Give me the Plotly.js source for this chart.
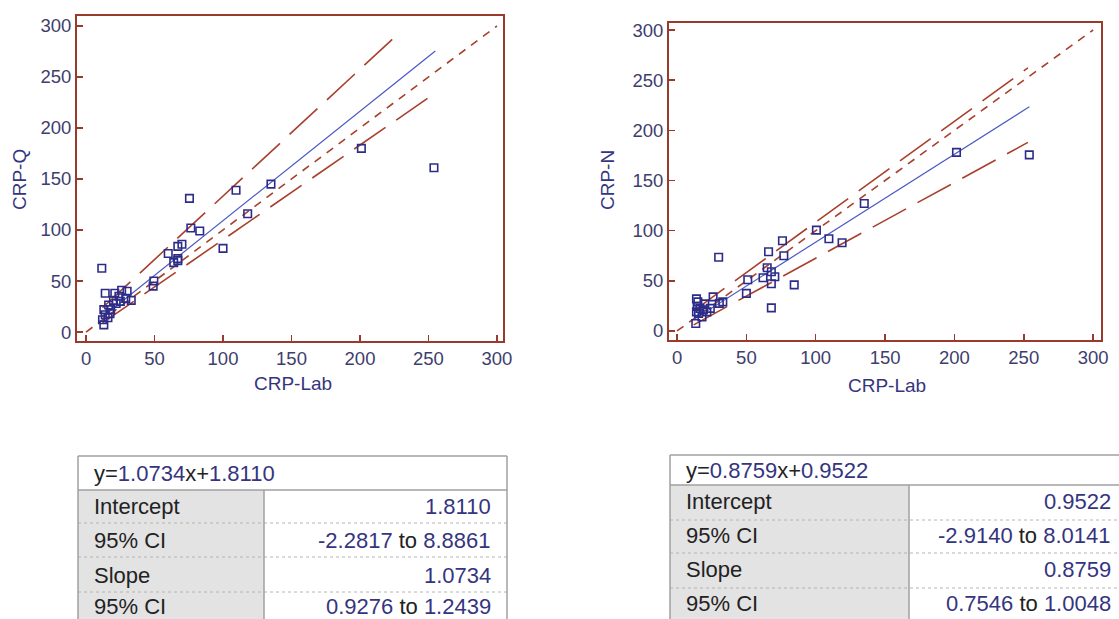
<!DOCTYPE html>
<html><head><meta charset="utf-8">
<script src="https://cdn.plot.ly/plotly-3.0.1.min.js"></script>
<style>html,body{margin:0;padding:0;background:#fff;}#chart{width:1119px;height:619px;}</style>
</head><body><div id="chart"></div>
<script>
// ---------- data ----------
const labQ = [11.5, 14, 21, 26, 30, 24, 20, 29, 33, 16.5, 13, 14, 12, 13, 17.5, 18, 22, 16, 49.5, 49, 60, 64, 67, 67, 70, 75.5, 76.5, 83, 100, 109.5, 118, 135, 201, 254, 67, 25];
const crpQ = [62.5, 38, 38, 41, 40, 35, 31, 33, 31, 26.5, 22, 17, 12, 7, 18, 22, 28, 14, 50, 45, 77, 68, 70, 84, 86, 131, 102, 99, 82, 139, 116, 145, 180, 161, 72, 30];

const labN = [254, 201.5, 135, 100.5, 109.5, 119, 76, 77, 66, 84.5, 68, 30, 65, 68, 62, 70.5, 68, 51, 50, 26, 33, 30.5, 14, 15, 20, 14, 18, 13.5, 21.5, 24, 16.5, 14.5, 19, 15.5];
const crpN = [175.5, 178, 127, 100.5, 92, 88, 90, 75, 79, 46, 23, 73.5, 63, 59, 53, 54, 47, 51, 37.5, 34, 29, 27.5, 32, 29, 27, 19, 14, 7.5, 19, 22.5, 22.5, 24.5, 21, 17.5];

// line end points
const identX = [0, 300], identY = [0, 300];
const regQx = [12, 255], regQy = [14.7, 275.5];
const upQx = [12, 226], upQy = [23.8, 290];
const loQx = [12, 255], loQy = [8.9, 234.3];
const regNx = [12, 254], regNy = [11.5, 223.4];
const upNx = [12, 253], upNy = [20.1, 262.2];
const loNx = [12, 253], loNy = [6.1, 188.0];

const tickVals = [0, 50, 100, 150, 200, 250, 300];
const xTitle = 'CRP-Lab';
const yTitleQ = 'CRP-Q';
const yTitleN = 'CRP-N';

const rowLabels = ['Intercept', '95% CI', 'Slope', '95% CI'];
const eqQ = ['1.0734', '1.8110'];
const valsQ = [['1.8110'], ['-2.2817', '8.8861'], ['1.0734'], ['0.9276', '1.2439']];
const eqN = ['0.8759', '0.9522'];
const valsN = [['0.9522'], ['-2.9140', '8.0141'], ['0.8759'], ['0.7546', '1.0048']];

// ---------- styling ----------
const W = 1119, H = 619;
const RED = '#a8402c', FRAME = '#9a3a2c', BLUE = '#4a5ac4', MARK = '#2c2c88', NAVY = '#35357f', TICK = '#3e3e6c', TXT = '#222222';
const FONT = 'Liberation Sans, Arial, sans-serif';
const px = v => v / W, py = v => 1 - v / H;

function lineTrace(x, y, color, dash, width, xa, ya) {
  return {x: x, y: y, mode: 'lines', type: 'scatter', xaxis: xa, yaxis: ya, hoverinfo: 'skip',
    line: {color: color, dash: dash, width: width}, showlegend: false};
}
function pointsTrace(x, y, xa, ya) {
  return {x: x, y: y, mode: 'markers', type: 'scatter', xaxis: xa, yaxis: ya, showlegend: false,
    marker: {symbol: 'square-open', size: 7.5, color: MARK, line: {width: 1.6, color: MARK}}};
}
const SHORT = '8px,7px', LONG = '38px,13px';
const traces = [
  lineTrace(identX, identY, RED, SHORT, 1.6, 'x', 'y'),
  lineTrace(upQx, upQy, RED, LONG, 1.6, 'x', 'y'),
  lineTrace(loQx, loQy, RED, LONG, 1.6, 'x', 'y'),
  lineTrace(regQx, regQy, BLUE, 'solid', 1.2, 'x', 'y'),
  pointsTrace(labQ, crpQ, 'x', 'y'),
  lineTrace(identX, identY, RED, SHORT, 1.6, 'x2', 'y2'),
  lineTrace(upNx, upNy, RED, LONG, 1.6, 'x2', 'y2'),
  lineTrace(loNx, loNy, RED, LONG, 1.6, 'x2', 'y2'),
  lineTrace(regNx, regNy, BLUE, 'solid', 1.2, 'x2', 'y2'),
  pointsTrace(labN, crpN, 'x2', 'y2')
];

function axis(domain, range, anchor) {
  return {domain: domain, range: range, anchor: anchor, tickvals: tickVals, ticktext: tickVals.map(String),
    showgrid: false, zeroline: false, showline: true, mirror: true, linecolor: FRAME, linewidth: 2,
    ticks: 'inside', ticklen: 6, tickwidth: 1.5, tickcolor: FRAME,
    tickfont: {family: FONT, size: 18.5, color: TICK}, fixedrange: true};
}

const layout = {
  width: W, height: H, margin: {l: 0, r: 0, t: 0, b: 0}, paper_bgcolor: '#fff', plot_bgcolor: '#fff',
  showlegend: false,
  xaxis: axis([px(77), px(503)], [-6.6, 304.4], 'y'),
  yaxis: axis([py(341), py(16)], [-8.8, 309.8], 'x'),
  xaxis2: axis([px(669), px(1101)], [-5.8, 305.7], 'y2'),
  yaxis2: axis([py(340), py(23)], [-9, 307], 'x2'),
  shapes: [], annotations: []
};

function ann(text, x, y, xanchor, size, color, angle) {
  layout.annotations.push({text: text, xref: 'paper', yref: 'paper', x: px(x), y: py(y), xanchor: xanchor,
    yanchor: 'middle', showarrow: false, textangle: angle || 0, borderpad: 0, font: {family: FONT, size: size, color: color}});
}
// axis titles
ann(xTitle, 293, 383, 'center', 19, NAVY);
ann(yTitleQ, 20, 180, 'center', 19, NAVY, -90);
ann(xTitle, 887, 385, 'center', 19, NAVY);
ann(yTitleN, 608, 180, 'center', 19, NAVY, -90);

function rect(x0, y0, x1, y1, fill, lc, lw) {
  layout.shapes.push({type: 'rect', xref: 'paper', yref: 'paper', x0: px(x0), x1: px(x1), y0: py(y0), y1: py(y1),
    fillcolor: fill, line: {color: lc || 'rgba(0,0,0,0)', width: lw || 0}, layer: 'below'});
}
function seg(x0, y0, x1, y1, color, width, dash) {
  layout.shapes.push({type: 'line', xref: 'paper', yref: 'paper', x0: px(x0), x1: px(x1), y0: py(y0), y1: py(y1),
    line: {color: color, width: width, dash: dash || 'solid'}});
}
const nv = s => '<span style="color:' + NAVY + '">' + s + '</span>';

function table(cfg, eq, vals) {
  const bottom = 640;
  rect(cfg.x0, cfg.eqB, cfg.split, bottom, '#e3e3e3');
  for (let i = 0; i < cfg.rows.length - 1; i++) {
    seg(cfg.x0, cfg.rows[i], cfg.x1, cfg.rows[i], '#b4b4b4', 1, 'dot');
  }
  seg(cfg.x0, cfg.eqB, cfg.x1, cfg.eqB, '#a0a0a0', 1.5);
  seg(cfg.split, cfg.eqB, cfg.split, bottom, '#a0a0a0', 1.5);
  seg(cfg.x0, cfg.top, cfg.x1, cfg.top, '#a0a0a0', 1.5);
  seg(cfg.x0, cfg.top, cfg.x0, bottom, '#a0a0a0', 1.5);
  seg(cfg.x1, cfg.top, cfg.x1, bottom, '#a0a0a0', 1.5);
  ann('y=' + nv(eq[0]) + 'x+' + nv(eq[1]), cfg.tx, (cfg.top + cfg.eqB) / 2, 'left', 22, TXT);
  for (let i = 0; i < rowLabels.length; i++) {
    const yc = cfg.centres[i];
    ann(rowLabels[i], cfg.tx, yc, 'left', 22, TXT);
    const v = vals[i].length === 1 ? nv(vals[i][0]) : nv(vals[i][0]) + ' to ' + nv(vals[i][1]);
    ann(v, cfg.vx, yc, 'right', 22, TXT);
  }
}
table({x0: 78, x1: 507, split: 264, top: 456, eqB: 490, rows: [523, 557, 592, 626], centres: [506, 540, 575, 606], tx: 93, vx: 492}, eqQ, valsQ);
table({x0: 670, x1: 1130, split: 909, top: 455, eqB: 485, rows: [520, 553, 588, 620], centres: [501, 535, 569, 603], tx: 685, vx: 1112}, eqN, valsN);

Plotly.newPlot('chart', traces, layout, {displayModeBar: false, staticPlot: true});
</script>
</body></html>
